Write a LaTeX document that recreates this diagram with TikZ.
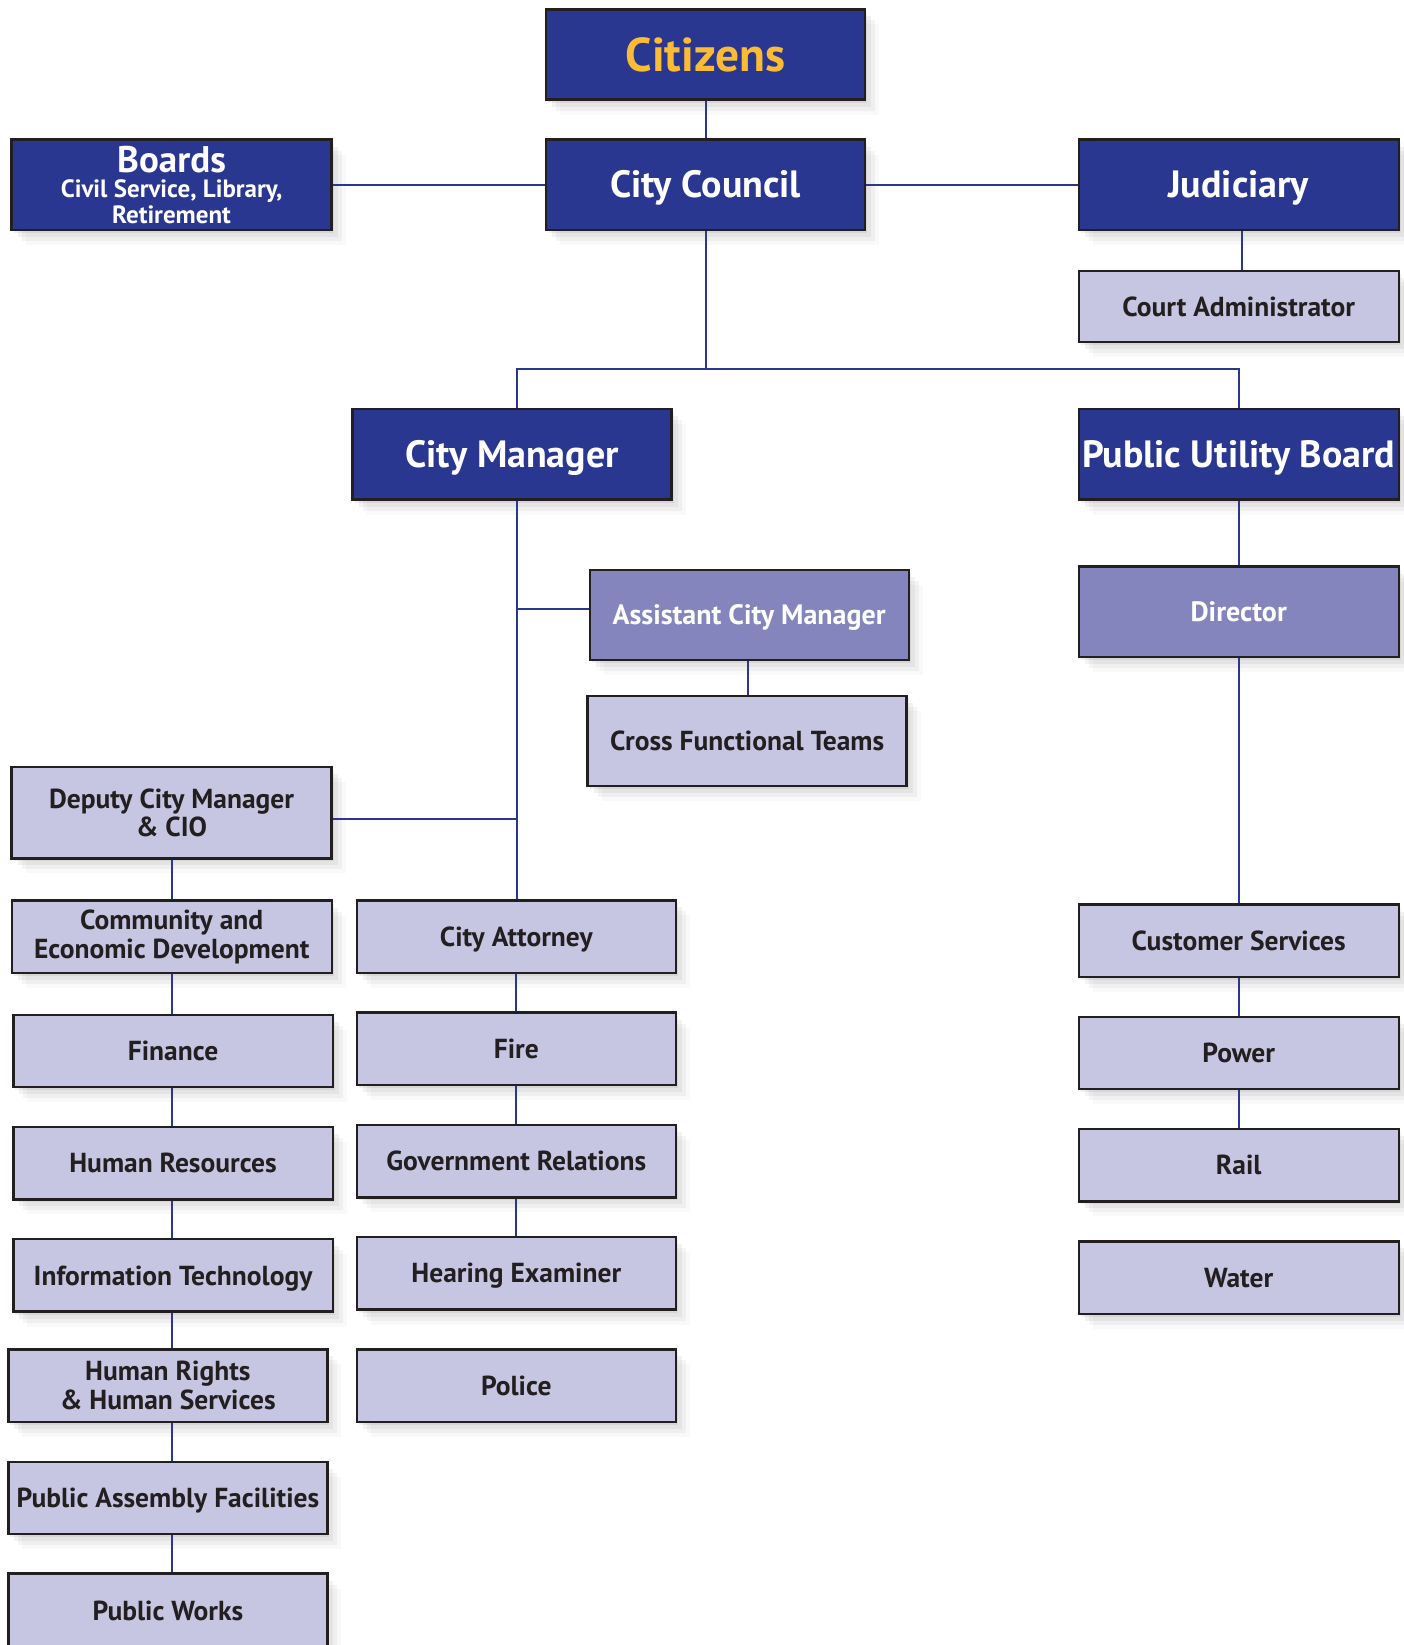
\documentclass[tikz,border=0pt]{standalone}
\usepackage{fontspec}
\setmainfont{PT Sans}
\usetikzlibrary{shadows,calc}
\definecolor{dblue}{RGB}{41,55,145}
\definecolor{gold}{RGB}{251,187,51}
\definecolor{mpurple}{RGB}{133,133,189}
\definecolor{lav}{RGB}{198,198,226}
\definecolor{edge}{RGB}{35,31,32}
\tikzset{
  shd/.style={
    drop shadow={shadow xshift=2pt,shadow yshift=-3pt,opacity=0.06,fill=black},
    drop shadow={shadow xshift=6pt,shadow yshift=-7pt,opacity=0.05,fill=black},
    drop shadow={shadow xshift=10pt,shadow yshift=-11pt,opacity=0.04,fill=black},
    drop shadow={shadow xshift=14pt,shadow yshift=-15pt,opacity=0.025,fill=black}},
  basebox/.style={rectangle, draw=edge, line width=2.4pt, shd, inner sep=0pt, align=center},
  topbox/.style={basebox, text height=26.6pt, text depth=0pt, fill=dblue, text=white, font=\bfseries\fontsize{38}{38}\selectfont},
  midbox/.style={basebox, text height=19.6pt, text depth=0pt, fill=mpurple, text=white, font=\bfseries\fontsize{28}{28}\selectfont},
  lightbox/.style={basebox, text height=19.25pt, text depth=0pt, fill=lav, text=edge, font=\bfseries\fontsize{27.5}{27.5}\selectfont},
  twoline/.style={basebox, fill=lav, text=edge, font=\bfseries\fontsize{27.5}{28.5}\selectfont},
  conn/.style={draw=dblue, line width=2pt}
}
\newcommand\bx[6]{\node[#6, minimum width={#4-#2}, minimum height={#5-#3}] (#1) at ({(#2+#4)/2},{(#3+#5)/2})}
\begin{document}
\begin{tikzpicture}[x=1pt,y=-1pt]
\useasboundingbox (0,0) rectangle (1404,1645);
% ---------- boxes ----------
\bx{cit}{546}{9.4}{865}{99.7}{topbox,font=\bfseries\fontsize{47.5}{47.5}\selectfont,text=gold,text height=33.3pt}{Citizens};
\bx{cc}{546}{139.6}{865}{229.8}{topbox}{City Council};
\bx{brd}{11.5}{139.6}{331.6}{229.8}{basebox,fill=dblue,text=white,font=\bfseries\fontsize{25}{25.5}\selectfont}{{\fontsize{37}{27}\selectfont Boards}\\Civil Service, Library,\\Retirement};
\bx{jud}{1078.7}{139.6}{1398.7}{229.8}{topbox}{Judiciary};
\bx{cadm}{1078.7}{270.7}{1398.7}{342.1}{lightbox}{Court Administrator};
\bx{cm}{352.6}{409.2}{671.6}{499.5}{topbox}{City Manager};
\bx{pub}{1078.7}{409.2}{1398.7}{499.5}{topbox}{Public Utility Board};
\bx{acm}{589.7}{569.8}{908.7}{660}{midbox}{Assistant City Manager};
\bx{cft}{587.6}{695.7}{906.6}{786}{lightbox}{Cross Functional Teams};
\bx{dir}{1078.7}{566.6}{1398.7}{656.9}{midbox}{Director};
% left column
\bx{dcm}{11.5}{767}{331.6}{858.3}{twoline}{Deputy City Manager\\\& CIO};
\bx{ced}{11.7}{900.5}{331.7}{973}{twoline}{Community and\\Economic Development};
\bx{fin}{13.4}{1015}{332.7}{1087}{lightbox}{Finance};
\bx{hr}{13.4}{1127}{332.7}{1199.3}{lightbox}{Human Resources};
\bx{it}{13.4}{1239.2}{332.7}{1311.6}{lightbox}{Information Technology};
\bx{hrhs}{8.4}{1349.4}{327.4}{1421.8}{twoline}{Human Rights\\\& Human Services};
\bx{paf}{8.4}{1461.7}{327.4}{1534}{lightbox}{Public Assembly Facilities};
\bx{pw}{8.4}{1573.5}{327.4}{1700}{lightbox,text height=0pt}{};
\node[font=\bfseries\fontsize{27.5}{27.5}\selectfont, text=edge, text height=19.25pt, text depth=0pt, inner sep=0pt] (pwt) at ($(pw.north)+(0,38.5)$) {Public Works};
% middle column
\bx{catt}{356.8}{900.3}{675.8}{972.7}{lightbox}{City Attorney};
\bx{fire}{356.8}{1012.6}{675.8}{1085}{lightbox}{Fire};
\bx{gov}{356.8}{1124.8}{675.8}{1197.3}{lightbox}{Government Relations};
\bx{hear}{356.8}{1237.1}{675.8}{1309.5}{lightbox}{Hearing Examiner};
\bx{pol}{356.8}{1349.4}{675.8}{1421.8}{lightbox}{Police};
% right column
\bx{cs}{1078.7}{904.5}{1398.7}{976.9}{lightbox}{Customer Services};
\bx{pow}{1078.7}{1016.8}{1398.7}{1089.2}{lightbox}{Power};
\bx{rail}{1078.7}{1129}{1398.7}{1201.4}{lightbox}{Rail};
\bx{wat}{1078.7}{1241.3}{1398.7}{1313.7}{lightbox}{Water};
% ---------- connectors ----------
\coordinate (split) at (cc.south |- 0,369.4);
\coordinate (tk) at ([xshift=5pt]cm.south);
\coordinate (trunkA) at (tk |- 0,608.6);
\coordinate (trunkD) at (tk |- 0,818.5);
\draw[conn] (cit.south) -- (cc.north);
\draw[conn] (brd.east) -- (cc.west);
\draw[conn] (cc.east) -- (jud.west);
\draw[conn] ([xshift=3pt]jud.south) -- ([xshift=3pt]cadm.north);
\draw[conn] (cc.south) -- (split);
\draw[conn] ([xshift=5pt]cm.north) |- (split) -| (pub.north);
\draw[conn] (tk) -- (catt.north -| tk);
\draw[conn] (trunkA) -- (trunkA -| acm.west);
\draw[conn] (trunkD) -- (trunkD -| dcm.east);
\draw[conn] ([xshift=-1pt]acm.south) -- ([xshift=-1pt]acm.south |- cft.north);
\draw[conn] (pub.south) -- (dir.north);
\draw[conn] (dir.south) -- (cs.north);
\draw[conn] (cs.south) -- (pow.north);
\draw[conn] (pow.south) -- (rail.north);
\draw[conn] (dcm.south) -- (ced.north -| dcm.south);
\draw[conn] (ced.south -| dcm.south) -- (fin.north -| dcm.south);
\draw[conn] (fin.south -| dcm.south) -- (hr.north -| dcm.south);
\draw[conn] (hr.south -| dcm.south) -- (it.north -| dcm.south);
\draw[conn] (it.south -| dcm.south) -- (hrhs.north -| dcm.south);
\draw[conn] (hrhs.south -| dcm.south) -- (paf.north -| dcm.south);
\draw[conn] (paf.south -| dcm.south) -- (pw.north -| dcm.south);
\draw[conn] (catt.south) -- (fire.north);
\draw[conn] (fire.south) -- (gov.north);
\draw[conn] (gov.south) -- (hear.north);
\end{tikzpicture}
\end{document}
